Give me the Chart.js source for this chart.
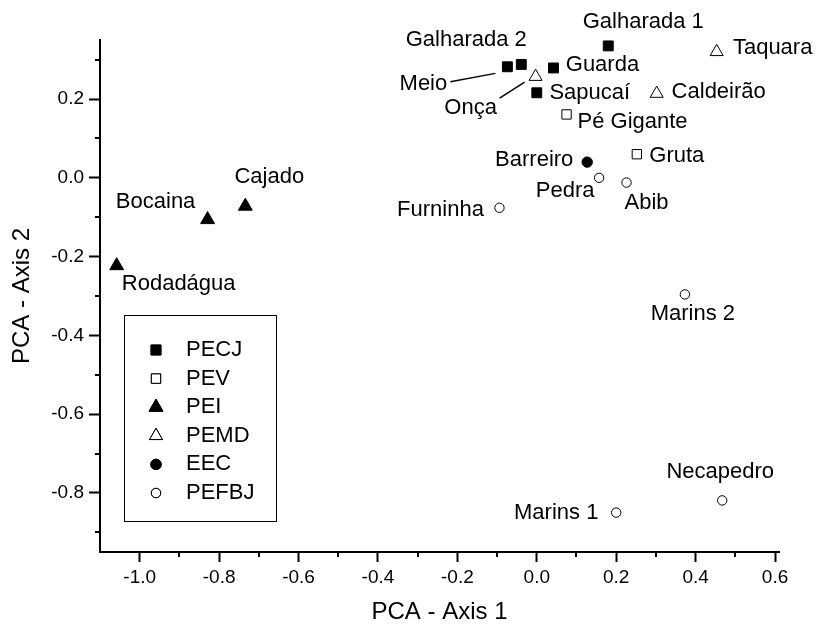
<!DOCTYPE html>
<html><head><meta charset="utf-8">
<script src="https://cdn.jsdelivr.net/npm/chart.js@4.4.1/dist/chart.umd.min.js"></script>
<style>html,body{margin:0;padding:0;background:#fff;}canvas{display:block;}</style>
</head><body>
<canvas id="c" width="819" height="624"></canvas>
<script>
// ---- data ----
const groups = ['PECJ', 'PEV', 'PEI', 'PEMD', 'EEC', 'PEFBJ'];

const pecjNames = ['Galharada 1', 'Galharada 2', 'Meio', 'Guarda', 'Sapucaí'];
const pecjX = [0.180, -0.039, -0.074, 0.042, 0.000];
const pecjY = [0.335, 0.288, 0.282, 0.279, 0.216];

const pevNames = ['Pé Gigante', 'Gruta'];
const pevX = [0.075, 0.252];
const pevY = [0.161, 0.060];

const peiNames = ['Cajado', 'Bocaina', 'Rodadágua'];
const peiX = [-0.734, -0.829, -1.058];
const peiY = [-0.072, -0.106, -0.223];

const pemdNames = ['Taquara', 'Onça', 'Caldeirão'];
const pemdX = [0.453, -0.003, 0.302];
const pemdY = [0.320, 0.257, 0.214];

const eecNames = ['Barreiro'];
const eecX = [0.127];
const eecY = [0.040];

const pefbjNames = ['Pedra', 'Abib', 'Furninha', 'Marins 2', 'Necapedro', 'Marins 1'];
const pefbjX = [0.157, 0.226, -0.094, 0.373, 0.467, 0.200];
const pefbjY = [0.000, -0.012, -0.076, -0.296, -0.819, -0.850];

const xTicks = [-1.0, -0.8, -0.6, -0.4, -0.2, 0.0, 0.2, 0.4, 0.6];
const yTicks = [-0.8, -0.6, -0.4, -0.2, 0.0, 0.2];
const xMinor = [-0.9, -0.7, -0.5, -0.3, -0.1, 0.1, 0.3, 0.5];
const yMinor = [-0.9, -0.7, -0.5, -0.3, -0.1, 0.1, 0.3];

// ---- label placement (pixel offsets from the marker; layout only) ----
const labelPos = {
  'Galharada 1': [35, -24], 'Galharada 2': [-55, -24],
  'Meio': [-84, 17, [-57, 15, -12, 6.6]], 'Guarda': [49, -3], 'Sapucaí': [53, 0],
  'Pé Gigante': [66, 8], 'Gruta': [40, 2],
  'Cajado': [24, -29], 'Bocaina': [-52, -18], 'Rodadágua': [62, 18],
  'Taquara': [56, -4], 'Onça': [-65, 31, [-36, 21.4, -11, 5.4]], 'Caldeirão': [62, -2],
  'Barreiro': [-53, -2],
  'Pedra': [-34, 13], 'Abib': [20, 20], 'Furninha': [-59, 2], 'Marins 2': [8, 20],
  'Necapedro': [-2, -28], 'Marins 1': [-60, 0]
};

const FONT = '"Liberation Sans", Arial, Helvetica, sans-serif';

function pts(names, xs, ys) { return names.map((n, i) => ({x: xs[i], y: ys[i], name: n})); }

const styles = [
  {pointStyle: 'rect', radius: 7, fill: '#000'},
  {pointStyle: 'rect', radius: 6.6, fill: '#fff'},
  {pointStyle: 'triangle', radius: 8, fill: '#000'},
  {pointStyle: 'triangle', radius: 7.5, fill: '#fff'},
  {pointStyle: 'circle', radius: 5.2, fill: '#000'},
  {pointStyle: 'circle', radius: 4.7, fill: '#fff'}
];
const series = [
  pts(pecjNames, pecjX, pecjY), pts(pevNames, pevX, pevY), pts(peiNames, peiX, peiY),
  pts(pemdNames, pemdX, pemdY), pts(eecNames, eecX, eecY), pts(pefbjNames, pefbjX, pefbjY)
];

const datasets = groups.map((g, i) => ({
  label: g,
  data: series[i],
  pointStyle: styles[i].pointStyle,
  pointRadius: styles[i].radius,
  pointBackgroundColor: styles[i].fill,
  pointBorderColor: '#000',
  pointBorderWidth: 1,
  clip: false
}));

const annot = {
  id: 'annot',
  afterDatasetsDraw(chart) {
    const {ctx, scales: {x, y}, chartArea} = chart;
    ctx.save();
    // minor ticks
    ctx.strokeStyle = '#000'; ctx.lineWidth = 2;
    ctx.beginPath();
    xMinor.forEach(v => { const px = Math.round(x.getPixelForValue(v)); ctx.moveTo(px, chartArea.bottom); ctx.lineTo(px, chartArea.bottom + 5); });
    yMinor.forEach(v => { const py = Math.round(y.getPixelForValue(v)); ctx.moveTo(chartArea.left, py); ctx.lineTo(chartArea.left - 5, py); });
    ctx.stroke();
    // point labels
    ctx.font = '22px ' + FONT; ctx.fillStyle = '#000';
    ctx.textAlign = 'center'; ctx.textBaseline = 'middle';
    ctx.lineWidth = 1.5;
    chart.data.datasets.forEach((ds, di) => {
      const meta = chart.getDatasetMeta(di);
      ds.data.forEach((p, i) => {
        const el = meta.data[i];
        const o = labelPos[p.name] || [0, -16];
        ctx.fillText(p.name, el.x + o[0], el.y + o[1]);
        if (o[2]) {
          ctx.beginPath();
          ctx.moveTo(el.x + o[2][0], el.y + o[2][1]);
          ctx.lineTo(el.x + o[2][2], el.y + o[2][3]);
          ctx.stroke();
        }
      });
    });
    // legend box
    const bx = 124, by = 315, bw = 152, bh = 206;
    ctx.lineWidth = 1;
    ctx.strokeRect(bx + 0.5, by + 0.5, bw, bh);
    ctx.textAlign = 'left';
    chart.data.datasets.forEach((ds, di) => {
      const cy = by + 35 + di * 28.6;
      Chart.helpers.drawPoint(ctx, {
        pointStyle: ds.pointStyle, radius: ds.pointRadius, borderWidth: 1
      }, bx + 32, cy);
      ctx.fillStyle = ds.pointBackgroundColor; ctx.strokeStyle = '#000';
      ctx.fill(); ctx.stroke();
      ctx.fillStyle = '#000';
      ctx.fillText(ds.label, bx + 62, cy);
    });
    ctx.restore();
  }
};

new Chart(document.getElementById('c'), {
  type: 'scatter',
  data: {datasets},
  options: {
    responsive: false,
    animation: false,
    events: [],
    layout: {padding: {left: 0, top: 40, right: 40, bottom: 0}},
    plugins: {legend: {display: false}, tooltip: {enabled: false}},
    scales: {
      x: {
        type: 'linear', min: -1.1, max: 0.61,
        afterBuildTicks: s => { s.ticks = xTicks.map(v => ({value: v})); },
        afterFit: s => { s.height = 72; },
        ticks: {color: '#000', font: {family: FONT, size: 19}, padding: 4,
                callback: v => v.toFixed(1), maxRotation: 0, autoSkip: false},
        grid: {display: true, drawOnChartArea: false, drawTicks: true, tickLength: 10, tickWidth: 2, tickColor: '#000'},
        border: {display: true, color: '#000', width: 2},
        title: {display: true, text: 'PCA - Axis 1', color: '#000', font: {family: FONT, size: 24, lineHeight: 1}, padding: {top: 0, bottom: 0}}
      },
      y: {
        type: 'linear', min: -0.95, max: 0.35,
        afterBuildTicks: s => { s.ticks = yTicks.map(v => ({value: v})); },
        afterFit: s => { s.width = 100; },
        ticks: {color: '#000', font: {family: FONT, size: 19}, padding: 5,
                callback: v => v.toFixed(1), autoSkip: false},
        grid: {display: true, drawOnChartArea: false, drawTicks: true, tickLength: 11, tickWidth: 2, tickColor: '#000'},
        border: {display: true, color: '#000', width: 2},
        title: {display: true, text: 'PCA - Axis 2', color: '#000', font: {family: FONT, size: 24, lineHeight: 1}, padding: {top: 10, bottom: 0}}
      }
    }
  },
  plugins: [annot]
});
</script>
</body></html>
